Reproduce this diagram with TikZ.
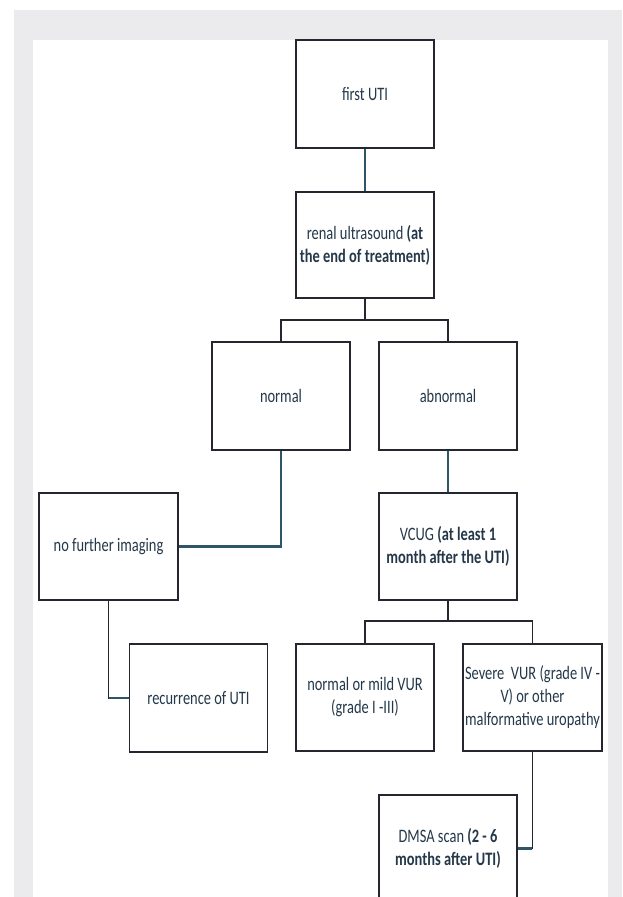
\documentclass[tikz,border=0pt]{standalone}
\usepackage{fontspec}
\setmainfont{Carlito}[FakeStretch=0.76]
\definecolor{framec}{RGB}{235,235,237}
\definecolor{boxc}{RGB}{38,38,48}
\definecolor{txtc}{RGB}{36,56,74}
\definecolor{tealc}{RGB}{46,86,102}
\begin{document}
\begin{tikzpicture}[x=1pt,y=-1pt,
  box/.style={draw=boxc, line width=1.2pt, minimum width=138pt, minimum height=107pt,
    inner sep=0pt, align=center, text=txtc, font=\fontsize{19}{23}\selectfont},
  tree/.style={draw=boxc, line width=1.2pt},
  tealline/.style={draw=tealc, line width=1.5pt},
  thickteal/.style={draw=tealc, line width=2.4pt}]
\useasboundingbox (0,0) rectangle (622,897);
\begin{scope}
\clip (0,0) rectangle (622,897);
\fill[framec] (14,10) rectangle (622,897);
\fill[white] (33,40) rectangle (608,897);

\node[box, minimum height=108pt] (first) at (365,94) {first UTI};
\node[box, minimum height=106pt] (renal) at (365,245) {renal ultrasound \textbf{(at}\\\textbf{the end of treatment)}};
\node[box, minimum height=108pt] (normal) at (281,396) {normal};
\node[box, minimum height=108pt] (abnormal) at (448,396) {abnormal};
\node[box] (vcug) at (448,546.5) {VCUG \textbf{(at least 1}\\\textbf{month after the UTI)}};
\node[box, minimum width=139pt] (nofurther) at (108.5,546.5) {no further imaging};
\node[box, minimum height=108pt] (recur) at (198.5,698) {recurrence of UTI};
\node[box] (mild) at (365,697.5) {normal or mild VUR\\(grade I -III)};
\node[box, minimum width=139pt] (severe) at (532.5,697.5) {Severe\ \ VUR (grade IV -\\V) or other\\malformative uropathy};
\node[box] (dmsa) at (448,848.5) {DMSA scan \textbf{(2 - 6}\\\textbf{months after UTI)}};

\coordinate (j1) at (365,320);
\coordinate (j2) at (448,621);

\draw[tealline] (first.south) -- (renal.north);
\draw[tree] (renal.south) -- (j1);
\draw[tree] (normal.north) |- (j1) -| (abnormal.north);
\draw[tealline] (abnormal.south) -- (vcug.north);
\draw[thickteal] (normal.south) |- (nofurther.east);
\draw[tree] (nofurther.south) |- (recur.west);
\draw[thickteal] (recur.west) -- ++(-20,0);
\draw[tree] (vcug.south) -- (j2);
\draw[tree] (mild.north) |- (j2) -| (severe.north);
\draw[tree] (severe.south) |- (dmsa.east);
\draw[thickteal] (dmsa.east) -- ++(14,0);
\end{scope}
\end{tikzpicture}
\end{document}
